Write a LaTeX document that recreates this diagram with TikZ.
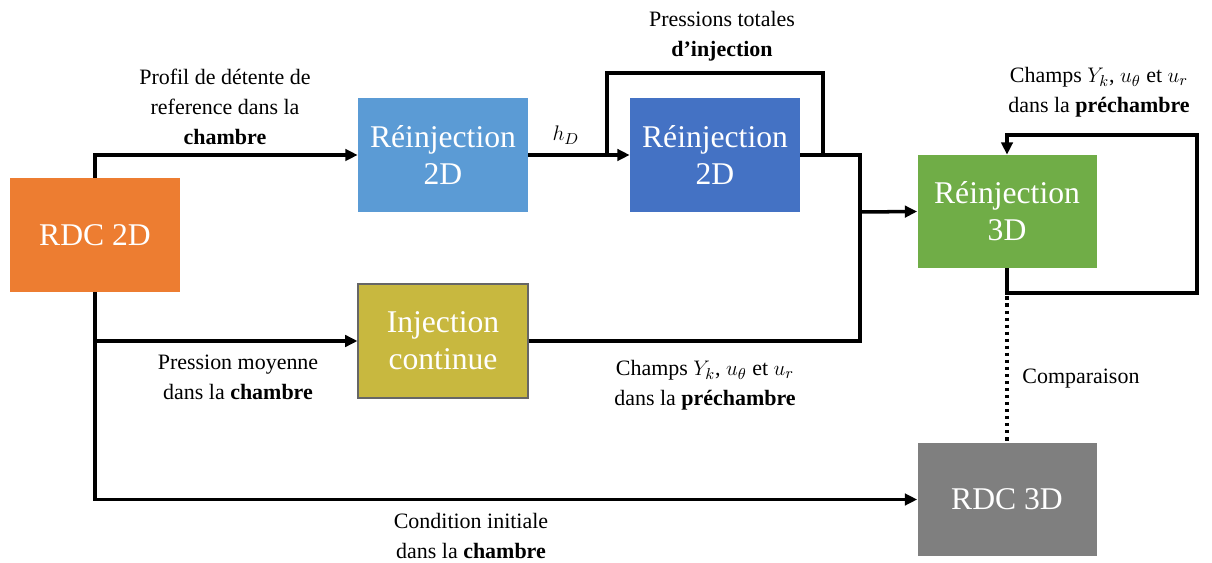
\documentclass[tikz,border=0pt]{standalone}
\usepackage{fontspec}
\setmainfont{Liberation Serif}
\usepackage{xcolor}
\usepackage{tikz}
\usetikzlibrary{positioning, arrows.meta, calc}
\definecolor{rdcorange}{HTML}{ED7D31}
\definecolor{lightblue}{HTML}{5B9BD5}
\definecolor{darkblue}{HTML}{4472C4}
\definecolor{midgreen}{HTML}{70AD47}
\definecolor{olive}{HTML}{C8B83F}
\definecolor{midgray}{HTML}{7F7F7F}

\begin{document}
\begin{tikzpicture}[x=0.02cm, y=-0.02cm,
    block/.style={text=white, minimum width=3.4cm, minimum height=2.28cm,
                  align=center, inner sep=0pt,
                  font=\fontsize{18}{21}\selectfont},
    wide/.style={block, minimum width=3.58cm, minimum height=2.26cm},
    lbl/.style={align=center, inner sep=0pt, font=\fontsize{12.5}{17}\selectfont},
    line/.style={line width=2pt},
    flow/.style={line, -{Triangle[length=7pt, width=6.5pt]}}]
  \useasboundingbox (0,0) rectangle (1212,563);

  % blocks
  \node[block, fill=rdcorange] (rdcA) at (95,235) {RDC 2D};
  \node[block, fill=lightblue] (reinjA) at (443,155) {Réinjection\\2D};
  \node[block, fill=darkblue] (reinjB) at (715,155) {Réinjection\\2D};
  \node[wide, fill=midgreen] (reinjC) at (1007,211.5) {Réinjection\\3D};
  \node[block, fill=olive, draw=black!60, line width=0.6pt] (injC) at (443,341) {Injection\\continue};
  \node[wide, fill=midgray] (rdcB) at (1007,499.5) {RDC 3D};

  % junctions
  \coordinate (split) at (607,155);
  \coordinate (merge) at (823,155);
  \coordinate (join) at (860,212);
  \coordinate (loopC) at (1197,135);

  % connectors
  \draw[flow] (rdcA.north) |- (reinjA.west);
  \draw[flow] (rdcA.south) |- (injC.west);
  \draw[flow] (rdcA.south) |- (rdcB.west);
  \draw[flow] (reinjA.east) -- node[pos=0.37, above=5pt, inner sep=0pt,
      font=\fontsize{13}{15}\selectfont] (hd) {$h_D$} (reinjB.west);
  \draw[line] (split) -- ++(0,-82) -| (merge);
  \draw[line] (reinjB.east) -| (join);
  \draw[line] (injC.east) -| (join);
  \draw[flow] (join) -- (reinjC.west);
  \draw[flow] (reinjC.south) -- ++(0,24.5) -| (loopC) -| (reinjC.north);
  \draw[line, dash pattern=on 2pt off 2pt] (reinjC.south) -- (rdcB.north);

  % labels
  \node[lbl] (profil) at (225,107) {Profil de détente de\\reference dans la\\\textbf{chambre}};
  \node[lbl] (ptot) at (722,36) {Pressions totales\\\textbf{d’injection}};
  \node[lbl] (champsC) at (1099,92) {Champs $Y_k$, $u_\theta$ et $u_r$\\dans la \textbf{préchambre}};
  \node[lbl] (pmoy) at (238,377) {Pression moyenne\\dans la \textbf{chambre}};
  \node[lbl] (champsI) at (705,385) {Champs $Y_k$, $u_\theta$ et $u_r$\\dans la \textbf{préchambre}};
  \node[lbl] (cinit) at (471,536) {Condition initiale\\dans la \textbf{chambre}};
  \node[lbl, anchor=west] (comp) at (1022,379) {Comparaison};
\end{tikzpicture}
\end{document}
